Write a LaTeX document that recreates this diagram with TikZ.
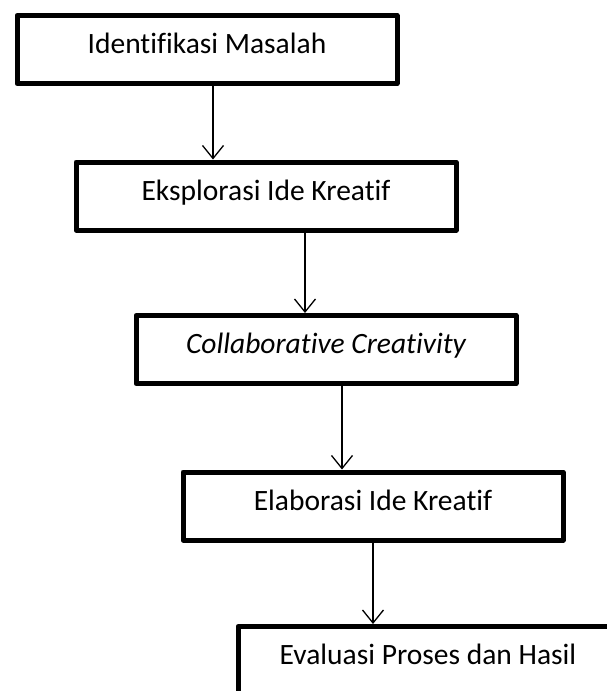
\documentclass[tikz,border=0pt]{standalone}
\usepackage{fontspec}
\setmainfont[Ligatures={NoCommon}]{Carlito}
\usetikzlibrary{arrows.meta}
\begin{document}
\begin{tikzpicture}[x=1pt,y=1pt,
  stepbox/.style={draw, line width=5pt, line join=round, rectangle, inner sep=0pt,
    minimum width=380pt, minimum height=68pt, text height=38pt, text depth=30pt,
    font=\fontsize{29.5}{34}\selectfont, anchor=north west},
  arr/.style={line width=1.3pt, -{Straight Barb[length=13pt,width=21pt,line width=1.3pt]}}]
\useasboundingbox (0,0) rectangle (606,-691);
\node[stepbox] (b1) at (14.5,-13) {Identifikasi Masalah};
\node[stepbox] (b2) at (73.5,-159.5) {Eksplorasi Ide Kreatif};
\node[stepbox] (b3) at (133.5,-313) {\itshape Collaborative Creativity};
\node[stepbox] (b4) at (180.5,-469.5) {Elaborasi Ide Kreatif};
\node[stepbox] (b5) at (235.5,-624) {Evaluasi Proses dan Hasil};
\coordinate (x1) at (213,0);
\coordinate (x2) at (305,0);
\coordinate (x3) at (342,0);
\coordinate (x4) at (373,0);
\draw[arr] (b1.south -| x1) -- (b2.north -| x1);
\draw[arr] (b2.south -| x2) -- (b3.north -| x2);
\draw[arr] (b3.south -| x3) -- (b4.north -| x3);
\draw[arr] (b4.south -| x4) -- (b5.north -| x4);
\end{tikzpicture}
\end{document}
